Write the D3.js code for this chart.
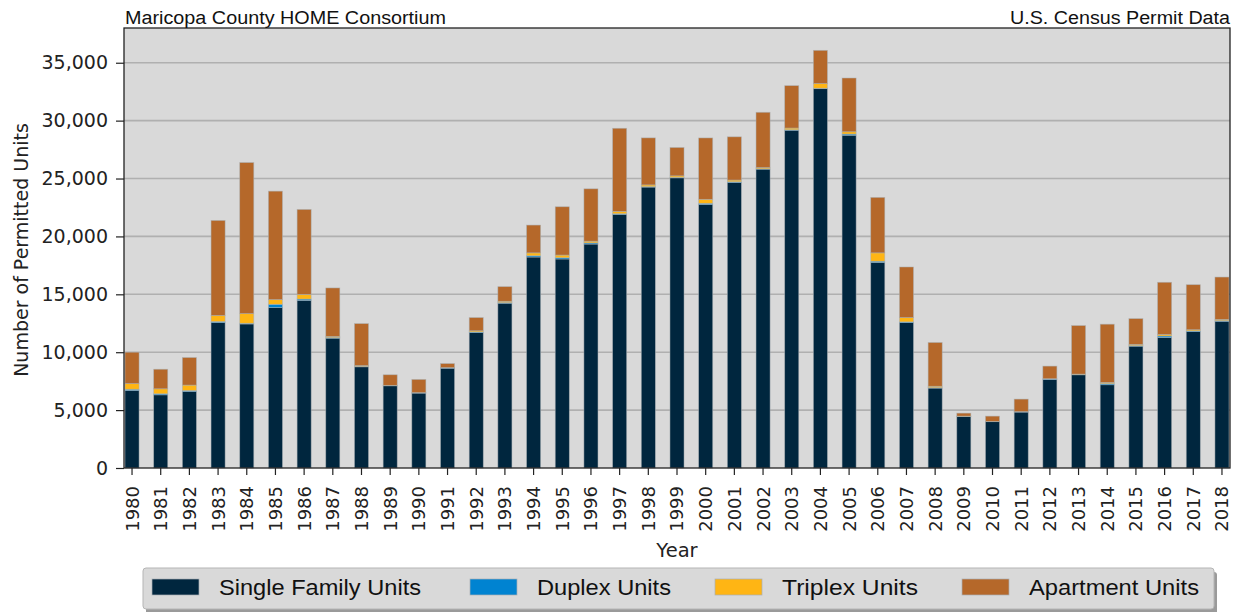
<!DOCTYPE html>
<html><head><meta charset="utf-8">
<script src="https://cdn.jsdelivr.net/npm/d3@7"></script>
<style>body{margin:0;background:#fff;} svg{display:block;}</style>
</head><body>
<svg id="chart" width="1239" height="612"></svg>
<script>
const years = [1980,1981,1982,1983,1984,1985,1986,1987,1988,1989,1990,1991,1992,1993,1994,1995,1996,1997,1998,1999,2000,2001,2002,2003,2004,2005,2006,2007,2008,2009,2010,2011,2012,2013,2014,2015,2016,2017,2018];
const singleFamily = [6700,6320,6610,12560,12440,13850,14480,11210,8740,7100,6470,8620,11700,14230,18220,18050,19340,21900,24260,25060,22760,24660,25810,29170,32760,28740,17760,12560,6900,4450,4000,4830,7650,8050,7190,10520,11270,11780,12670];
const duplex = [100,90,80,90,60,290,110,60,40,20,20,20,50,60,110,110,100,60,40,40,100,60,30,40,40,100,100,60,40,10,10,20,40,30,100,50,130,60,60];
const triplex = [490,430,470,520,830,400,400,90,60,20,20,30,100,110,250,230,150,200,150,130,345,150,100,150,400,200,720,370,120,20,10,20,20,30,100,100,130,100,100];
const apartment = [2710,1690,2380,8210,13050,9370,7340,4190,3630,910,1140,350,1140,1260,2400,4170,4520,7180,4060,2450,5300,3730,4780,3660,2870,4640,4790,4370,3780,260,460,1080,1090,4190,5030,2230,4510,3890,3660];
const seriesNames = ["Single Family Units","Duplex Units","Triplex Units","Apartment Units"];
const seriesColors = ["#00263e","#0083d1","#ffb514","#b5682a"];
const yTicks = [0,5000,10000,15000,20000,25000,30000,35000];

const svg = d3.select("#chart");
const m = {l:124, r:1230, t:28, b:468};

const table = years.map((y,i)=>({year:y, s0:singleFamily[i], s1:duplex[i], s2:triplex[i], s3:apartment[i]}));
const stack = d3.stack().keys(["s0","s1","s2","s3"])(table);

const x = d3.scaleBand().domain(years).range([m.l, m.r]).paddingInner(0.51).paddingOuter(0.035);
const y = d3.scaleLinear().domain([0,38000]).range([m.b, m.t]);

svg.append("rect").attr("x",m.l).attr("y",m.t).attr("width",m.r-m.l).attr("height",m.b-m.t).attr("fill","#d9d9d9");

svg.append("g").selectAll("line").data(yTicks.filter(d=>d>0)).join("line")
  .attr("x1",m.l).attr("x2",m.r).attr("y1",d=>y(d)).attr("y2",d=>y(d))
  .attr("stroke","#b0b0b0").attr("stroke-width",1.6);

svg.append("g").selectAll("g").data(stack).join("g")
  .attr("fill",(d,i)=>seriesColors[i])
  .selectAll("rect").data(d=>d).join("rect")
  .attr("x",d=>x(d.data.year)).attr("width",x.bandwidth())
  .attr("y",d=>y(d[1])).attr("height",d=>Math.max(0,y(d[0])-y(d[1])))
  .attr("stroke","#a9b0b5").attr("stroke-width",0.7).attr("stroke-opacity",0.7);

svg.append("rect").attr("x",m.l).attr("y",m.t).attr("width",m.r-m.l).attr("height",m.b-m.t)
  .attr("fill","none").attr("stroke","#222").attr("stroke-width",1.3);

const yAxis = svg.append("g").attr("transform",`translate(${m.l},0)`)
  .call(d3.axisLeft(y).tickValues(yTicks).tickFormat(d3.format(",")).tickSize(8).tickPadding(8));
yAxis.select(".domain").remove();
yAxis.selectAll("line").attr("stroke","#222").attr("stroke-width",1.2);
yAxis.selectAll("text").attr("font-family","DejaVu Sans").attr("font-size",19).attr("fill","#222");

const xAxis = svg.append("g").attr("transform",`translate(0,${m.b})`)
  .call(d3.axisBottom(x).tickSize(7).tickPadding(4));
xAxis.select(".domain").remove();
xAxis.selectAll("line").attr("stroke","#222").attr("stroke-width",1.2);
xAxis.selectAll("text").attr("font-family","DejaVu Sans").attr("font-size",18).attr("fill","#222")
  .attr("x",0).attr("y",0).attr("dy","0.36em")
  .attr("transform","translate(0,18) rotate(-90)").attr("text-anchor","end");

svg.append("text").attr("x",(m.l+m.r)/2).attr("y",557).attr("text-anchor","middle")
  .attr("font-family","DejaVu Sans").attr("font-size",19.5).attr("fill","#222").text("Year");
svg.append("text").attr("transform","translate(28,250) rotate(-90)").attr("text-anchor","middle")
  .attr("font-family","DejaVu Sans").attr("font-size",19).attr("fill","#222").text("Number of Permitted Units");

svg.append("text").attr("x",m.l+1).attr("y",24).attr("font-family","Liberation Sans, Arial").attr("font-size",18)
  .attr("textLength",321).attr("lengthAdjust","spacingAndGlyphs").attr("fill","#111").text("Maricopa County HOME Consortium");
svg.append("text").attr("x",m.r).attr("y",24).attr("text-anchor","end").attr("font-family","Liberation Sans, Arial").attr("font-size",18)
  .attr("textLength",220).attr("lengthAdjust","spacingAndGlyphs").attr("fill","#111").text("U.S. Census Permit Data");

const lg = svg.append("g");
lg.append("rect").attr("x",146).attr("y",572).attr("width",1071).attr("height",42).attr("fill","#9a9a9a").attr("rx",3);
lg.append("rect").attr("x",143).attr("y",568).attr("width",1071).attr("height",41).attr("fill","#d9d9d9").attr("stroke","#b5b5b5").attr("stroke-width",1).attr("rx",3);
const legX = [152,470,715,962];
const legTextW = [202,134,136,170];
seriesNames.forEach((n,i)=>{
  lg.append("rect").attr("x",legX[i]).attr("y",579).attr("width",47).attr("height",16).attr("fill",seriesColors[i]).attr("stroke","#a9b0b5").attr("stroke-width",0.7);
  lg.append("text").attr("x",legX[i]+67).attr("y",595).attr("font-family","Liberation Sans, Arial").attr("font-size",22.5)
    .attr("textLength",legTextW[i]).attr("lengthAdjust","spacingAndGlyphs").attr("fill","#111").text(n);
});
</script>
</body></html>
